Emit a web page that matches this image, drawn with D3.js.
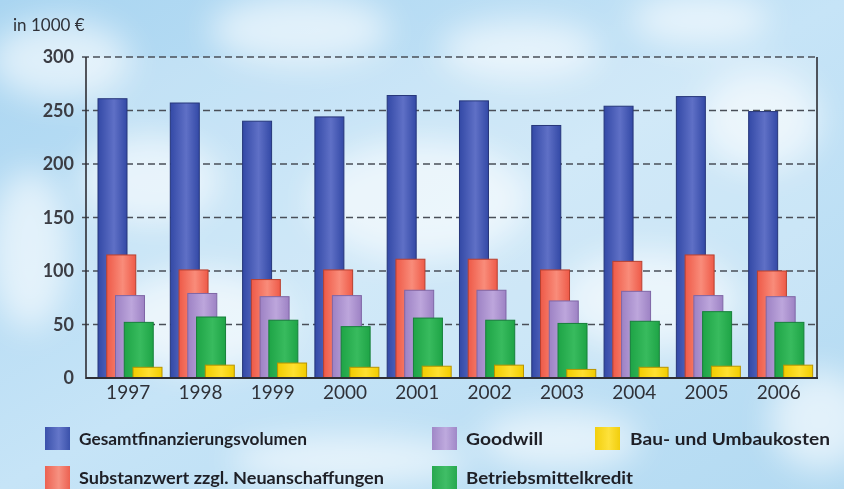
<!DOCTYPE html>
<html><head><meta charset="utf-8">
<script src="https://cdn.jsdelivr.net/npm/d3@7"></script>
<style>html,body{margin:0;padding:0;background:#c4e2f5;}svg{display:block;}</style>
</head><body>
<script>
const years = ["1997","1998","1999","2000","2001","2002","2003","2004","2005","2006"];
const seriesNames = ["Gesamtfinanzierungsvolumen","Substanzwert zzgl. Neuanschaffungen","Goodwill","Betriebsmittelkredit","Bau- und Umbaukosten"];
const gesamt = [261,257,240,244,264,259,236,254,263,249];
const substanz = [115,101,92,101,111,111,101,109,115,100];
const goodwill = [77,79,76,77,82,82,72,81,77,76];
const betrieb = [52,57,54,48,56,54,51,53,62,52];
const bau = [10,12,14,10,11,12,8,10,11,12];
const yTicks = [0,50,100,150,200,250,300];
const unitLabel = "in 1000 €";

const values = [gesamt, substanz, goodwill, betrieb, bau];
const colors = [
  {edge:"#3349a6", mid:"#5f70c6", stroke:"#26367a"},
  {edge:"#ee5a48", mid:"#f98c7a", stroke:"#b8402f"},
  {edge:"#9d82c4", mid:"#bda6dc", stroke:"#7f66a6"},
  {edge:"#1ea446", mid:"#38bb5e", stroke:"#16803a"},
  {edge:"#f2cc00", mid:"#ffe030", stroke:"#b99400"}
];

const W = 844, H = 489;
const svg = d3.select("body").append("svg").attr("width", W).attr("height", H);
const defs = svg.append("defs");

// background
const bg = defs.append("linearGradient").attr("id","bg").attr("x1",0).attr("y1",0).attr("x2",1).attr("y2",1);
bg.append("stop").attr("offset",0).attr("stop-color","#a9d5f1");
bg.append("stop").attr("offset",0.5).attr("stop-color","#c6e4f7");
bg.append("stop").attr("offset",1).attr("stop-color","#b3daf2");
svg.append("rect").attr("width",W).attr("height",H).attr("fill","url(#bg)");
defs.append("filter").attr("id","blur").attr("x","-50%").attr("y","-50%").attr("width","200%").attr("height","200%")
  .append("feGaussianBlur").attr("stdDeviation",16);
const clouds = [[60,60,70,40],[300,30,90,35],[520,50,80,30],[760,120,60,50],[30,250,40,80],[420,200,110,60],[650,300,90,50],[200,320,90,50],[820,420,50,50],[350,460,120,25],[150,180,70,45],[700,20,70,25],[560,440,80,30]];
svg.append("g").attr("filter","url(#blur)").selectAll("ellipse").data(clouds).join("ellipse")
  .attr("cx",d=>d[0]).attr("cy",d=>d[1]).attr("rx",d=>d[2]).attr("ry",d=>d[3])
  .attr("fill","#ffffff").attr("opacity",0.6);

const x0 = 86, x1 = 817, yTop = 57, yBot = 378;
const y = d3.scaleLinear().domain([0,300]).range([yBot, yTop]);
const x = d3.scaleBand().domain(years).range([98, 813]).paddingInner(0.11).paddingOuter(0);
const barW = 29;
const sx = d3.scalePoint().domain(d3.range(5)).range([0, 35]);

// plot area lighten
svg.append("rect").attr("x",x0).attr("y",yTop).attr("width",x1-x0).attr("height",yBot-yTop)
  .attr("fill","#ffffff").attr("opacity",0.2);

// grid
svg.append("g").selectAll("line").data(yTicks.filter(d=>d>0)).join("line")
  .attr("x1",x0-4).attr("x2",x1).attr("y1",d=>y(d)).attr("y2",d=>y(d))
  .attr("stroke","#4a4f58").attr("stroke-width",1.4).attr("stroke-dasharray","7,4");

// gradients for bars
colors.forEach((c,i)=>{
  const g = defs.append("linearGradient").attr("id","g"+i).attr("x1",0).attr("x2",1).attr("y1",0).attr("y2",0);
  g.append("stop").attr("offset",0).attr("stop-color",c.edge);
  g.append("stop").attr("offset",0.55).attr("stop-color",c.mid);
  g.append("stop").attr("offset",1).attr("stop-color",c.edge);
});

// bars
const gBars = svg.append("g");
values.forEach((vals,k)=>{
  gBars.append("g").selectAll("rect").data(vals.map((v,i)=>({v,yr:years[i]}))).join("rect")
    .attr("x",d=>x(d.yr)+sx(k)).attr("y",d=>y(d.v)).attr("width",barW).attr("height",d=>yBot-y(d.v))
    .attr("fill","url(#g"+k+")").attr("stroke",colors[k].stroke).attr("stroke-width",1);
});

// axes lines
svg.append("line").attr("x1",x0).attr("x2",x0).attr("y1",yTop).attr("y2",yBot+1).attr("stroke","#2e2e34").attr("stroke-width",1.6);
svg.append("line").attr("x1",x1).attr("x2",x1).attr("y1",yTop).attr("y2",yBot+1).attr("stroke","#2e2e34").attr("stroke-width",1.6);
svg.append("line").attr("x1",x0).attr("x2",x1+1).attr("y1",yBot).attr("y2",yBot).attr("stroke","#2e2e34").attr("stroke-width",2);

// y tick labels
const axL = d3.axisLeft(y).tickValues(yTicks).tickSize(0).tickPadding(12);
const gy = svg.append("g").attr("transform",`translate(${x0},0)`).call(axL);
gy.select(".domain").remove();
gy.selectAll("text").attr("font-family","Lato, 'Open Sans', sans-serif").attr("font-size",18).attr("font-weight",700).attr("fill","#3b3d44");

// x labels
const axB = d3.axisBottom(x).tickSize(0).tickPadding(8);
const gx = svg.append("g").attr("transform",`translate(-2,${yBot})`).call(axB);
gx.select(".domain").remove();
gx.selectAll("text").attr("font-family","Lato, 'Open Sans', sans-serif").attr("font-size",19).attr("font-weight",400).attr("fill","#2f3138");

// unit label
svg.append("text").attr("x",13).attr("y",31).text(unitLabel)
  .attr("font-family","Lato, 'Open Sans', sans-serif").attr("font-size",17).attr("fill","#2f3138");

// legend
const legend = [
  {k:0, sx:45, tx:79, y:427, w:228},
  {k:1, sx:45, tx:79, y:466, w:305},
  {k:2, sx:432, tx:466, y:427, w:77},
  {k:3, sx:432, tx:466, y:466, w:167},
  {k:4, sx:595, tx:630, y:427, w:200}
];
const gl = svg.append("g");
legend.forEach(l=>{
  gl.append("rect").attr("x",l.sx).attr("y",l.y).attr("width",25).attr("height",23)
    .attr("fill","url(#g"+l.k+")").attr("opacity",0.95);
  gl.append("text").attr("x",l.tx).attr("y",l.y+18).text(seriesNames[l.k])
    .attr("font-family","Lato, 'Open Sans', sans-serif").attr("font-size",17).attr("font-weight",700)
    .attr("fill","#1e1f26").attr("textLength",l.w).attr("lengthAdjust","spacingAndGlyphs");
});
</script>
</body></html>
